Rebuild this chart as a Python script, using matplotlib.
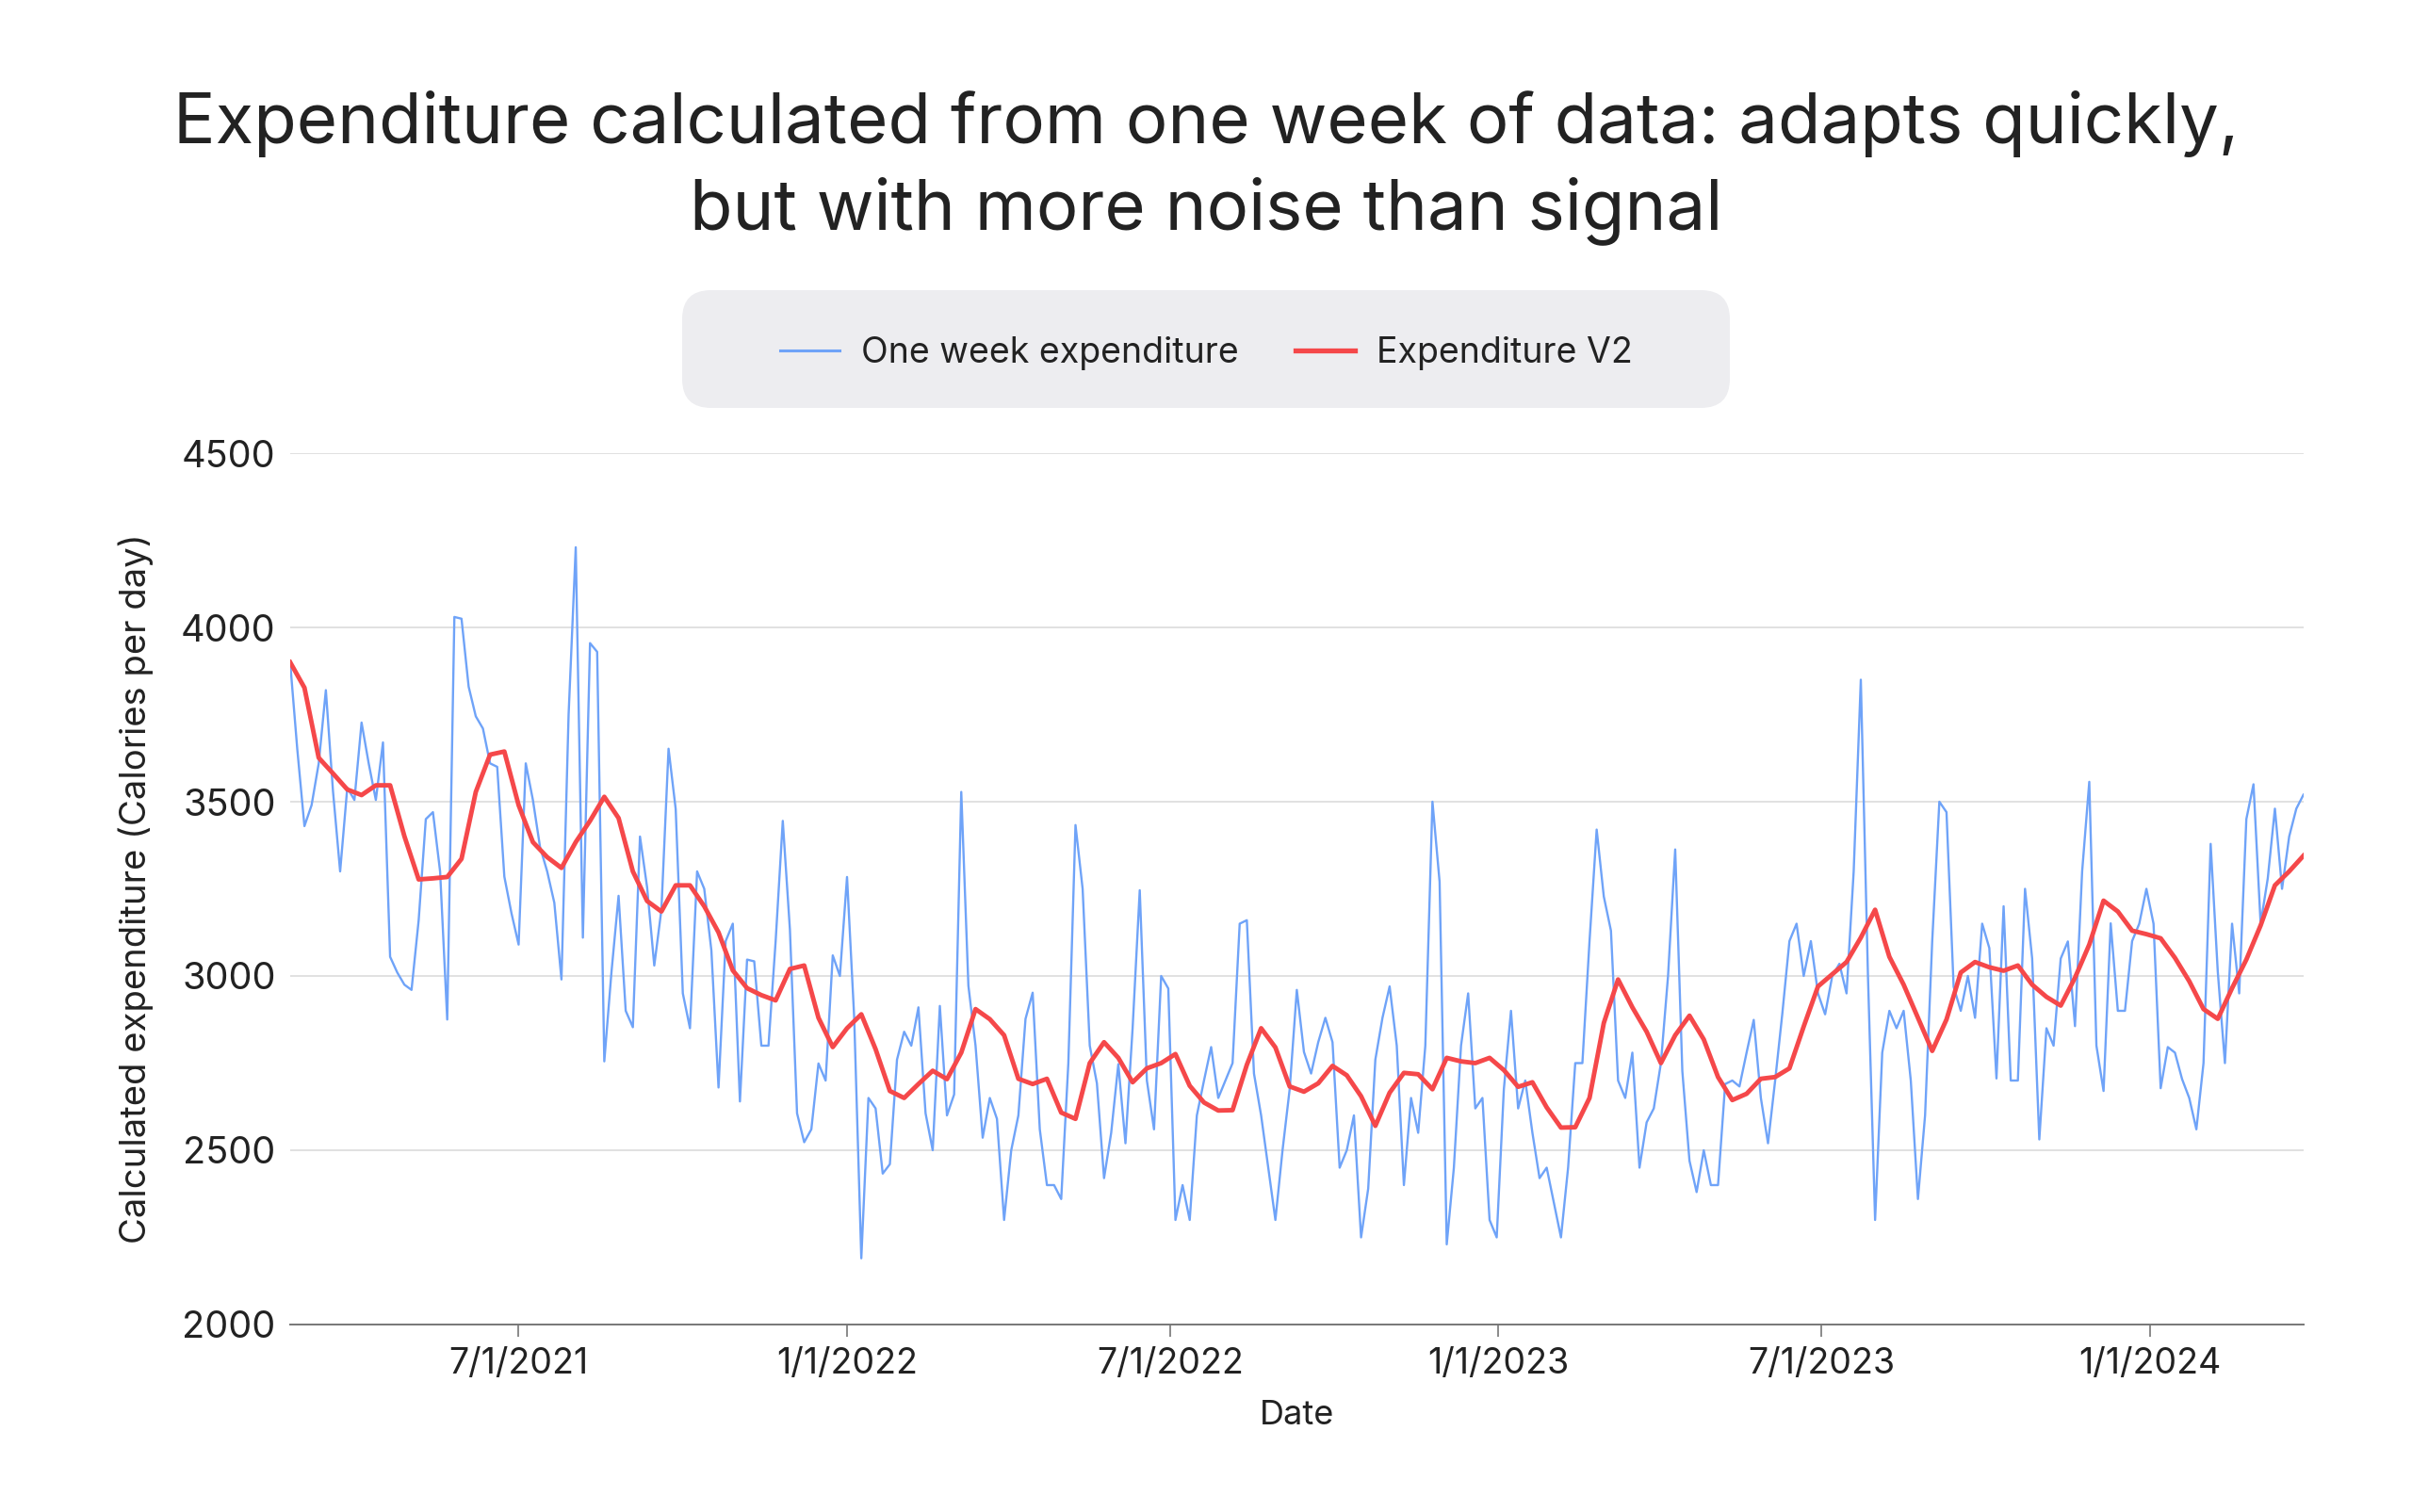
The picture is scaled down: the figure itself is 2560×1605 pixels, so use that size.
import matplotlib
matplotlib.use("Agg")
import matplotlib.pyplot as plt
import matplotlib.dates as mdates
import matplotlib.ticker as mticker
from matplotlib.patches import FancyBboxPatch
from matplotlib.lines import Line2D
import pandas as pd

plt.rcParams["font.family"] = ["Inter", "DejaVu Sans"]

TEXT = "#222222"
BLUE = "#6fa3f8"
RED = "#f5484a"

# one week expenditure, every 4 days from 2021-02-23
week_start = "2021-02-23"
week_values = [
    3900, 3650, 3430, 3490, 3610, 3820, 3530, 3300, 3540, 3505, 3727, 3610,
    3505, 3670, 3055, 3010, 2975, 2960, 3160, 3450, 3470, 3300, 2875, 4030,
    4025, 3830, 3745, 3710, 3610, 3600, 3285, 3180, 3090, 3610, 3505, 3370,
    3300, 3210, 2990, 3750, 4230, 3110, 3955, 3930, 2755, 3010, 3230, 2900,
    2853, 3400, 3254, 3030, 3190, 3652, 3479, 2950, 2850, 3300, 3250, 3073,
    2680, 3100, 3150, 2640, 3047, 3042, 2800, 2800, 3100, 3445, 3133, 2606,
    2523, 2560, 2749, 2700, 3059, 3000, 3284, 2882, 2190, 2650, 2620, 2433,
    2460, 2760, 2840, 2800, 2910, 2606, 2500, 2914, 2600, 2660, 3528, 2972,
    2800, 2536, 2650, 2590, 2300, 2500, 2600, 2877, 2952, 2560, 2400, 2400,
    2360, 2750, 3433, 3250, 2800, 2692, 2420, 2550, 2747, 2520, 2850, 3246,
    2700, 2560, 3000, 2964, 2300, 2400, 2300, 2600, 2700, 2796, 2650, 2700,
    2750, 3150, 3160, 2720, 2600, 2450, 2300, 2500, 2675, 2960, 2782, 2720,
    2810, 2880, 2810, 2450, 2500, 2600, 2250, 2390, 2760, 2880, 2970, 2800,
    2400, 2650, 2550, 2800, 3500, 3270, 2230, 2450, 2800, 2950, 2620, 2650,
    2300, 2250, 2675, 2900, 2620, 2700, 2550, 2420, 2450, 2350, 2250, 2450,
    2750, 2750, 3100, 3420, 3228, 3130, 2700, 2650, 2780, 2450, 2580, 2620,
    2750, 3000, 3363, 2727, 2470, 2380, 2500, 2400, 2400, 2690, 2700, 2683,
    2780, 2874, 2650, 2520, 2700, 2891, 3100, 3150, 3000, 3100, 2950, 2890,
    3000, 3035, 2950, 3300, 3850, 3000, 2300, 2780, 2900, 2850, 2900, 2700,
    2360, 2600, 3100, 3500, 3470, 2969, 2900, 3000, 2880, 3150, 3080, 2706,
    3200, 2700, 2700, 3250, 3050, 2531, 2850, 2800, 3050, 3099, 2856, 3300,
    3557, 2800, 2670, 3151, 2900, 2900, 3100, 3150, 3250, 3150, 2678, 2796,
    2780, 2704, 2650, 2560, 2750, 3379, 3012, 2750, 3150, 2950, 3450, 3550,
    3150, 3280, 3480, 3250, 3400, 3480, 3520,
]

# expenditure V2, every 8 days from the same start
v2_start = "2021-02-23"
v2_values = [
    3900, 3827, 3626, 3581, 3535, 3519, 3547, 3547, 3401, 3277, 3280, 3284,
    3336, 3528, 3635, 3644, 3490, 3384, 3341, 3310, 3384, 3445, 3514, 3453,
    3300, 3215, 3185, 3260, 3260, 3200, 3125, 3016, 2965, 2945, 2930, 3020,
    3030, 2880, 2796, 2850, 2890, 2790, 2670, 2650, 2690, 2728, 2704, 2780,
    2905, 2876, 2830, 2705, 2690, 2705, 2608, 2590, 2750, 2810, 2765, 2695,
    2735, 2750, 2776, 2685, 2637, 2614, 2615, 2745, 2850, 2795, 2683, 2668,
    2692, 2742, 2715, 2655, 2570, 2665, 2722, 2718, 2675, 2765, 2755, 2750,
    2765, 2730, 2682, 2695, 2623, 2565, 2566, 2650, 2865, 2990, 2910, 2840,
    2750, 2830, 2886, 2818, 2710, 2644, 2662, 2705, 2710, 2735, 2855, 2970,
    3005, 3040, 3110, 3190, 3055, 2975, 2880, 2785, 2875, 3010, 3040, 3025,
    3015, 3030, 2975, 2940, 2915, 2995, 3090, 3216, 3185, 3130, 3120, 3108,
    3052, 2985, 2905, 2877, 2965, 3047, 3145, 3260, 3300, 3345,
]

y_ticks = [2000, 2500, 3000, 3500, 4000, 4500]

week_dates = pd.date_range(week_start, periods=len(week_values), freq="4D")
v2_dates = pd.date_range(v2_start, periods=len(v2_values), freq="8D")

fig = plt.figure(figsize=(25.6, 16.05), dpi=100)
ax = fig.add_axes([0.1203, 0.124, 0.8347, 0.5763])

ax.plot(week_dates, week_values, color=BLUE, lw=1.7, zorder=2)
ax.plot(v2_dates, v2_values, color=RED, lw=3.5, zorder=3)

ax.set_xlim(week_dates[0], week_dates[-1])
ax.set_ylim(2000, 4500)
ax.set_yticks(y_ticks)
ax.yaxis.grid(True, color="#dedede", lw=1.3)
ax.set_axisbelow(True)

ax.xaxis.set_major_locator(mdates.MonthLocator(bymonth=[1, 7]))
ax.xaxis.set_major_formatter(mticker.FuncFormatter(
    lambda v, _: (lambda d: f"{d.month}/{d.day}/{d.year}")(mdates.num2date(v))))

for s in ["top", "right", "left"]:
    ax.spines[s].set_visible(False)
ax.spines["bottom"].set_color("#777777")
ax.spines["bottom"].set_linewidth(1.4)

ax.tick_params(axis="y", length=0, pad=11, labelsize=28.5, labelcolor=TEXT)
ax.tick_params(axis="x", length=9, width=1.2, color="#777777", pad=8,
               labelsize=27, labelcolor=TEXT)

ax.set_xlabel("Date", fontsize=26, color=TEXT)
ax.xaxis.set_label_coords(0.5, -0.104)
ax.xaxis.label.set_va("center")
ax.set_ylabel("Calculated expenditure (Calories per day)", fontsize=27.5, color=TEXT)
ax.yaxis.set_label_coords(-0.0767, 0.5)
ax.yaxis.label.set_va("center")

fig.text(0.5, 0.9053, "Expenditure calculated from one week of data: adapts quickly,",
         ha="center", va="baseline", fontsize=53.5, color=TEXT)
fig.text(0.5, 0.8486, "but with more noise than signal",
         ha="center", va="baseline", fontsize=53.5, color=TEXT)

# legend box
bx0, bx1 = 724 / 2560, 1836 / 2560
by0, by1 = 1 - 433 / 1605, 1 - 308 / 1605
box = FancyBboxPatch((bx0, by0), bx1 - bx0, by1 - by0,
                     boxstyle="round,pad=0,rounding_size=0.012",
                     transform=fig.transFigure, facecolor="#ededf0",
                     edgecolor="none", mutation_aspect=2560 / 1605)
fig.patches.append(box)
handles = [Line2D([], [], color=BLUE, lw=2.2), Line2D([], [], color=RED, lw=3.8)]
fig.legend(handles, ["One week expenditure", "Expenditure V2"],
           loc="center", bbox_to_anchor=(0.5, 1 - 375 / 1605), ncol=2,
           frameon=False, fontsize=27, handlelength=1.7, handletextpad=0.6,
           columnspacing=1.6, labelcolor=TEXT)

fig.savefig("out.png", dpi=100, facecolor="white")
